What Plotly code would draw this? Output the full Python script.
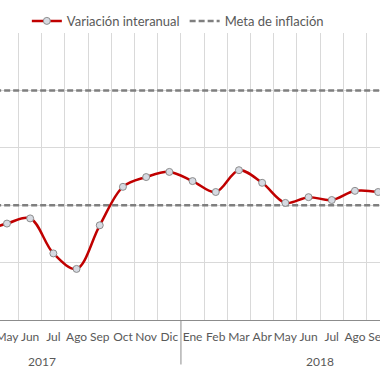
import plotly.graph_objects as go

# Data (months indexed: 0 = Ene 2017)
month_idx = list(range(3, 21))
month_labels = ["Abr", "May", "Jun", "Jul", "Ago", "Sep", "Oct", "Nov", "Dic",
                "Ene", "Feb", "Mar", "Abr", "May", "Jun", "Jul", "Ago", "Sep"]
variacion = [1.55, 1.68, 1.77, 1.16, 0.89, 1.65, 2.32, 2.49, 2.58,
             2.42, 2.23, 2.61, 2.39, 2.04, 2.14, 2.09, 2.25, 2.23]
meta_idx = list(range(0, 24))
meta_low = [2.0] * len(meta_idx)
meta_high = [4.0] * len(meta_idx)
years = ["2017", "2018"]
year_centers = [5.5, 17.5]
year_sep = 11.5

TXT = "#595959"
FONT = "Lato"

fig = go.Figure()
fig.add_trace(go.Scatter(x=meta_idx, y=meta_high, mode="lines", name="Meta de inflación",
                         legendgroup="meta", showlegend=False,
                         line=dict(color="#7F7F7F", width=2.5, dash="6px,3px")))
fig.add_trace(go.Scatter(x=meta_idx, y=meta_low, mode="lines", name="Meta de inflación",
                         legendgroup="meta", showlegend=True,
                         line=dict(color="#7F7F7F", width=2.5, dash="6px,3px")))
fig.add_trace(go.Scatter(x=month_idx, y=variacion, mode="lines+markers",
                         name="Variación interanual",
                         line=dict(color="#C00000", width=2.5, shape="spline", smoothing=1.0),
                         marker=dict(symbol="circle", size=7, color="#D6DAE2",
                                     line=dict(color="#8C8C8C", width=1))))

fig.update_layout(
    width=380, height=380,
    margin=dict(l=0, r=0, t=33, b=60, autoexpand=False),
    plot_bgcolor="white", paper_bgcolor="white",
    font=dict(family=FONT, size=12, color=TXT),
    legend=dict(orientation="h", x=0.468, xanchor="center", y=1.042, yanchor="middle",
                traceorder="reversed", font=dict(size=13, color=TXT),
                itemwidth=30, bgcolor="rgba(0,0,0,0)"),
    showlegend=True,
)
fig.update_xaxes(range=[3.70, 20.08], tickmode="array", tickvals=month_idx,
                 ticktext=month_labels, tickangle=0, automargin=False,
                 ticklabeloverflow="allow", ticklabelstandoff=6,
                 showgrid=False, zeroline=False,
                 showline=True, linecolor="#8C8C8C", linewidth=1, ticks="",
                 tickfont=dict(size=12, color=TXT),
                 minor=dict(tick0=0.5, dtick=1, showgrid=True, gridcolor="#D9D9D9", gridwidth=1))
fig.update_yaxes(range=[0, 5], dtick=1, showgrid=True, gridcolor="#D9D9D9", gridwidth=1,
                 showticklabels=False, zeroline=False, showline=False, automargin=False)

fig.add_shape(type="line", xref="x", yref="paper", x0=year_sep, x1=year_sep, y0=0, y1=-0.155,
              line=dict(color="#8C8C8C", width=1))
for yr, xc in zip(years, year_centers):
    fig.add_annotation(x=xc, y=-0.143, xref="x", yref="paper", text=yr, showarrow=False,
                       font=dict(size=12, color=TXT), yanchor="middle")

fig.write_html("out.html", config={"displayModeBar": False},
               post_script="document.body.style.margin='0';document.body.style.overflow='hidden';")
